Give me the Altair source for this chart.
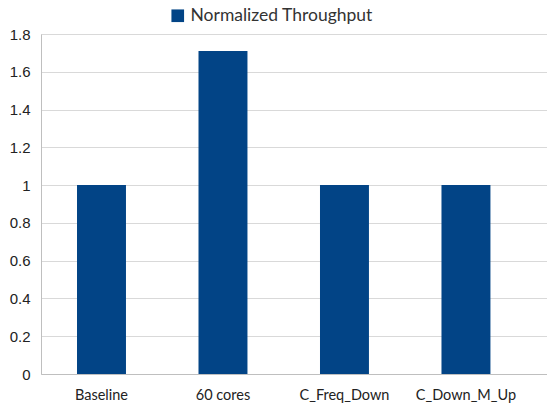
import altair as alt
import pandas as pd

categories = ["Baseline", "60 cores", "C_Freq_Down", "C_Down_M_Up"]
throughput = [1.0, 1.71, 1.0, 1.0]
series_name = "Normalized Throughput"
y_ticks = [0, 0.2, 0.4, 0.6, 0.8, 1.0, 1.2, 1.4, 1.6, 1.8]

df = pd.DataFrame({
    "category": categories,
    "value": throughput,
    "series": [series_name] * len(categories),
})

bars = alt.Chart(df).mark_bar(color="#024486").encode(
    x=alt.X(
        "category:N",
        sort=categories,
        title=None,
        scale=alt.Scale(paddingInner=0.597, paddingOuter=0.381, align=0.389),
        axis=alt.Axis(
            labelAngle=0, ticks=False, labelPadding=14,
            labelFont="Lato", labelFontSize=14.5, labelColor="#222222",
            domainColor="#bfbfbf", grid=False,
        ),
    ),
    y=alt.Y(
        "value:Q",
        title=None,
        scale=alt.Scale(domain=[0, 1.8], nice=False),
        axis=alt.Axis(
            values=y_ticks, ticks=False, labelPadding=11,
            labelFont="Liberation Sans", labelFontSize=15, labelColor="#222222",
            domainColor="#bfbfbf", gridColor="#d9d9d9",
            labelExpr="format(datum.value, '~g')",
        ),
    ),
    color=alt.Color(
        "series:N",
        scale=alt.Scale(range=["#024486"]),
        legend=alt.Legend(
            title=None, orient="none", legendX=128, legendY=-27,
            symbolType="square", symbolSize=160, symbolStrokeWidth=0,
            labelFont="Lato", labelFontSize=17.5, labelColor="#333333",
            labelLimit=400,
        ),
    ),
)

chart = bars.properties(
    width=506, height=340,
    autosize=alt.AutoSizeParams(type="none"),
    padding={"left": 41, "top": 34, "right": 0, "bottom": 35},
).configure_view(stroke=None).configure(background="white")

chart.save("out.html", embed_options={"renderer": "svg", "actions": False})
